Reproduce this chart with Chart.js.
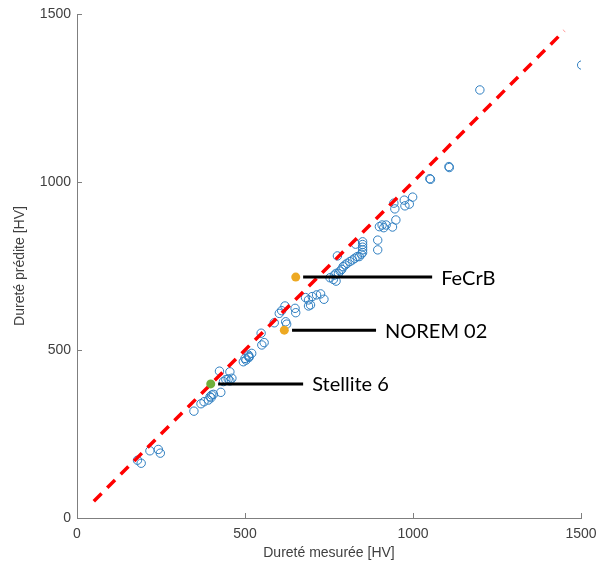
<!DOCTYPE html>
<html>
<head>
<meta charset="utf-8">
<script src="https://cdn.jsdelivr.net/npm/chart.js@4.4.1/dist/chart.umd.min.js"></script>
<style>
html,body{margin:0;padding:0;background:#fff;}
#wrap{width:600px;height:568px;position:relative;}
</style>
</head>
<body>
<div id="wrap"><canvas id="c" width="600" height="568"></canvas></div>
<script>
// ---- data ----
const measured = [180,191,217,242,248,
  348,369,378,391,396,401,406,399,428,
  424,455,436,443,450,455,461,
  495,503,512,500,510,520,512,
  548,550,557,
  587,602,609,619,621,624,
  649,651,
  680,689,695,689,700,713,725,735,
  753,763,771,766,771,778,775,783,788,792,798,804,812,820,827,834,840,846,
  850,850,850,850,850,829,
  895,895,
  900,908,913,920,939,949,
  943,946,974,976,989,999,
  1050,1052,1107,1108,
  1199,1502];
const predicted = [172,163,200,204,193,
  318,340,346,351,361,366,368,358,374,
  437,435,406,412,414,408,416,
  465,470,478,475,485,490,481,
  550,515,522,
  581,609,617,631,584,577,
  624,611,
  656,649,634,631,659,664,667,651,
  715,710,705,723,728,728,780,735,740,748,753,758,763,768,773,778,778,785,
  790,798,806,814,822,815,
  827,798,
  867,872,864,872,866,887,
  937,920,946,929,934,955,
  1010,1008,1046,1043,
  1274,1348];
const refLineX = [50, 1450];
const refLineY = [50, 1450];
const materials = ['FeCrB', 'NOREM 02', 'Stellite 6'];
const matMeasured = [651, 617, 398];
const matPredicted = [717, 559, 399];
const leaderFrom = [673, 640, 420];
const leaderTo = [1057, 890, 673];
const axisTicks = [0, 500, 1000, 1500];
const xTitle = 'Dureté mesurée [HV]';
const yTitle = 'Dureté prédite [HV]';

const matColors = ['#EDA923', '#EDA923', '#6FAE3A'];

const datasets = [];
materials.forEach((m, i) => {
  datasets.push({
    label: m,
    data: [{x: matMeasured[i], y: matPredicted[i]}],
    pointRadius: 4.5,
    pointBackgroundColor: matColors[i],
    pointBorderColor: matColors[i],
    pointBorderWidth: 0,
    order: 1
  });
  datasets.push({
    label: m + ' leader',
    type: 'line',
    data: [{x: leaderFrom[i], y: matPredicted[i]}, {x: leaderTo[i], y: matPredicted[i]}],
    borderColor: '#000',
    borderWidth: 3,
    pointRadius: 0,
    showLine: true,
    order: 2
  });
});
datasets.push({
  label: 'y = x',
  type: 'line',
  data: refLineX.map((x, i) => ({x, y: refLineY[i]})),
  borderColor: '#FF0000',
  borderWidth: 3.5,
  borderDash: [11, 8],
  pointRadius: 0,
  showLine: true,
  order: 3
});
datasets.push({
  label: 'Données',
  data: measured.map((x, i) => ({x, y: predicted[i]})),
  pointRadius: 4.2,
  pointBackgroundColor: 'rgba(0,0,0,0)',
  pointBorderColor: '#2E7EC0',
  pointBorderWidth: 1,
  order: 4
});

const inwardTicks = {
  id: 'inwardTicks',
  afterDraw(chart) {
    const ctx = chart.ctx, xs = chart.scales.x, ys = chart.scales.y;
    const a = chart.chartArea;
    ctx.save();
    ctx.strokeStyle = '#7f7f7f';
    ctx.lineWidth = 1;
    ctx.beginPath();
    axisTicks.forEach(v => {
      const px = Math.round(xs.getPixelForValue(v)) + 0.5;
      ctx.moveTo(px, a.bottom); ctx.lineTo(px, a.bottom - 5);
      const py = Math.round(ys.getPixelForValue(v)) + 0.5;
      ctx.moveTo(a.left, py); ctx.lineTo(a.left + 5, py);
    });
    ctx.stroke();
    ctx.restore();
  }
};

const labelsPlugin = {
  id: 'matLabels',
  afterDatasetsDraw(chart) {
    const ctx = chart.ctx, xs = chart.scales.x, ys = chart.scales.y;
    ctx.save();
    ctx.font = '20px Lato, "Open Sans", sans-serif';
    ctx.fillStyle = '#000';
    ctx.textAlign = 'left';
    ctx.textBaseline = 'middle';
    materials.forEach((m, i) => {
      ctx.fillText(m, xs.getPixelForValue(leaderTo[i]) + 9, ys.getPixelForValue(matPredicted[i]) + 1);
    });
    ctx.restore();
  }
};

const fmt = v => String(v);

new Chart(document.getElementById('c'), {
  type: 'scatter',
  data: { datasets },
  options: {
    responsive: false,
    animation: false,
    layout: { padding: { top: 14, right: 19, left: 0, bottom: 0 } },
    plugins: { legend: { display: false }, tooltip: { enabled: false } },
    scales: {
      x: {
        type: 'linear', min: 0, max: 1500,
        afterBuildTicks(s) { s.ticks = axisTicks.map(v => ({value: v})); },
        afterFit(s) { s.height = 50; s.paddingLeft = 0; s.paddingRight = 0; },
        grid: { display: false, drawTicks: false },
        border: { display: true, color: '#7f7f7f', width: 1 },
        ticks: { color: '#404040', font: { family: '"Liberation Sans", Arial', size: 14 }, padding: 8, maxRotation: 0, callback: fmt },
        title: { display: true, text: xTitle, color: '#404040', font: { family: '"Liberation Sans", Arial', size: 14 }, padding: { top: 2, bottom: 6 } }
      },
      y: {
        type: 'linear', min: 0, max: 1500,
        afterBuildTicks(s) { s.ticks = axisTicks.map(v => ({value: v})); },
        afterFit(s) { s.width = 77; s.paddingTop = 0; s.paddingBottom = 0; },
        grid: { display: false, drawTicks: false },
        border: { display: true, color: '#7f7f7f', width: 1 },
        ticks: { color: '#404040', font: { family: '"Liberation Sans", Arial', size: 14 }, padding: 6, callback: fmt },
        title: { display: true, text: yTitle, color: '#404040', font: { family: '"Liberation Sans", Arial', size: 14 }, padding: { top: 12, bottom: 4 } }
      }
    }
  },
  plugins: [inwardTicks, labelsPlugin]
});
</script>
</body>
</html>
